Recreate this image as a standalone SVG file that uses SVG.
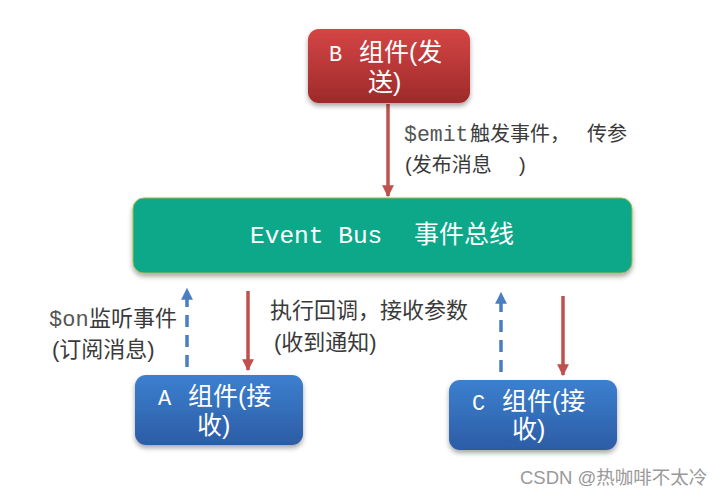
<svg xmlns="http://www.w3.org/2000/svg" width="726" height="499" viewBox="0 0 726 499">
<defs>
<linearGradient id="gRed" x1="0" y1="0" x2="0" y2="1"><stop offset="0" stop-color="#D44545"/><stop offset="1" stop-color="#9E2A2A"/></linearGradient>
<linearGradient id="gBlue" x1="0" y1="0" x2="0" y2="1"><stop offset="0" stop-color="#3C80CF"/><stop offset="1" stop-color="#2C5CA5"/></linearGradient>
<filter id="sh" x="-10%" y="-20%" width="120%" height="150%"><feDropShadow dx="0" dy="3" stdDeviation="2.5" flood-color="#000" flood-opacity="0.35"/></filter>
<marker id="ar" viewBox="0 0 10 10" refX="9" refY="5" markerWidth="3.4" markerHeight="3.4" orient="auto" markerUnits="strokeWidth"><path d="M0,0 L10,5 L0,10 z" fill="#C0504D"/></marker>
<marker id="ab" viewBox="0 0 10 10" refX="9" refY="5" markerWidth="3.4" markerHeight="3.4" orient="auto" markerUnits="strokeWidth"><path d="M0,0 L10,5 L0,10 z" fill="#4A7EC0"/></marker>
</defs>
<style>
.t{font-family:"Liberation Sans","Noto Sans CJK SC",sans-serif;font-size:20px;fill:#3a3a3a}
.t2{font-size:22px}
.m{font-family:"Liberation Mono","Noto Sans CJK SC",monospace}
.w{font-family:"Liberation Sans","Noto Sans CJK SC",sans-serif;font-size:25px;fill:#fff}
.red{stroke:#C0504D;stroke-width:3.5;fill:none}
.blue{stroke:#4A7EC0;stroke-width:3.5;fill:none;stroke-dasharray:12 8}
</style>
<rect width="726" height="499" fill="#fff"/>
<g id="connectors">
<line class="red" x1="388" y1="104" x2="388" y2="196" marker-end="url(#ar)"/>
<line class="blue" x1="187" y1="367" x2="187" y2="289" marker-end="url(#ab)"/>
<line class="red" x1="248" y1="291" x2="248" y2="370" marker-end="url(#ar)"/>
<line class="blue" x1="501" y1="372" x2="501" y2="293" marker-end="url(#ab)"/>
<line class="red" x1="563" y1="296" x2="563" y2="375" marker-end="url(#ar)"/>
<text class="t" y="141"><tspan class="m" x="404" font-size="21.5" fill="#555">$emit</tspan><tspan x="470">触发事件，</tspan><tspan x="587">传参</tspan></text>
<text class="t" y="172"><tspan x="405">(发布消息</tspan><tspan x="519">)</tspan></text>
<text class="t t2" y="326"><tspan class="m" x="49" fill="#555">$on</tspan><tspan x="89">监听事件</tspan></text>
<text class="t t2" x="52" y="357">(订阅消息)</text>
<text class="t t2" x="270" y="318">执行回调，接收参数</text>
<text class="t t2" x="274" y="350">(收到通知)</text>
</g>
<g id="nodeB">
<rect x="308" y="29" width="162" height="74" rx="11" fill="url(#gRed)" filter="url(#sh)"/>
<text class="w" y="61"><tspan class="m" x="329" font-size="22">B</tspan><tspan x="359">组件(发</tspan></text>
<text class="w" x="368" y="91">送)</text>
</g>
<g id="eventBus">
<rect x="133" y="198" width="499" height="75" rx="11" fill="#0DA88A" stroke="#9DB84A" stroke-width="1" filter="url(#sh)"/>
<text class="w" y="243"><tspan class="m" x="250" font-size="24.5">Event Bus</tspan><tspan x="414">事件总线</tspan></text>
</g>
<g id="nodeA">
<rect x="135" y="375" width="168" height="70" rx="11" fill="url(#gBlue)" filter="url(#sh)"/>
<text class="w" y="405"><tspan class="m" x="158" font-size="22">A</tspan><tspan x="188">组件(接</tspan></text>
<text class="w" x="197" y="434">收)</text>
</g>
<g id="nodeC">
<rect x="449" y="380" width="168" height="70" rx="11" fill="url(#gBlue)" filter="url(#sh)"/>
<text class="w" y="410"><tspan class="m" x="472" font-size="22">C</tspan><tspan x="502">组件(接</tspan></text>
<text class="w" x="512" y="438">收)</text>
</g>
<text x="520" y="484" font-family="Liberation Sans,'Noto Sans CJK SC',sans-serif" font-size="18.5" fill="#999">CSDN @热咖啡不太冷</text>
</svg>
